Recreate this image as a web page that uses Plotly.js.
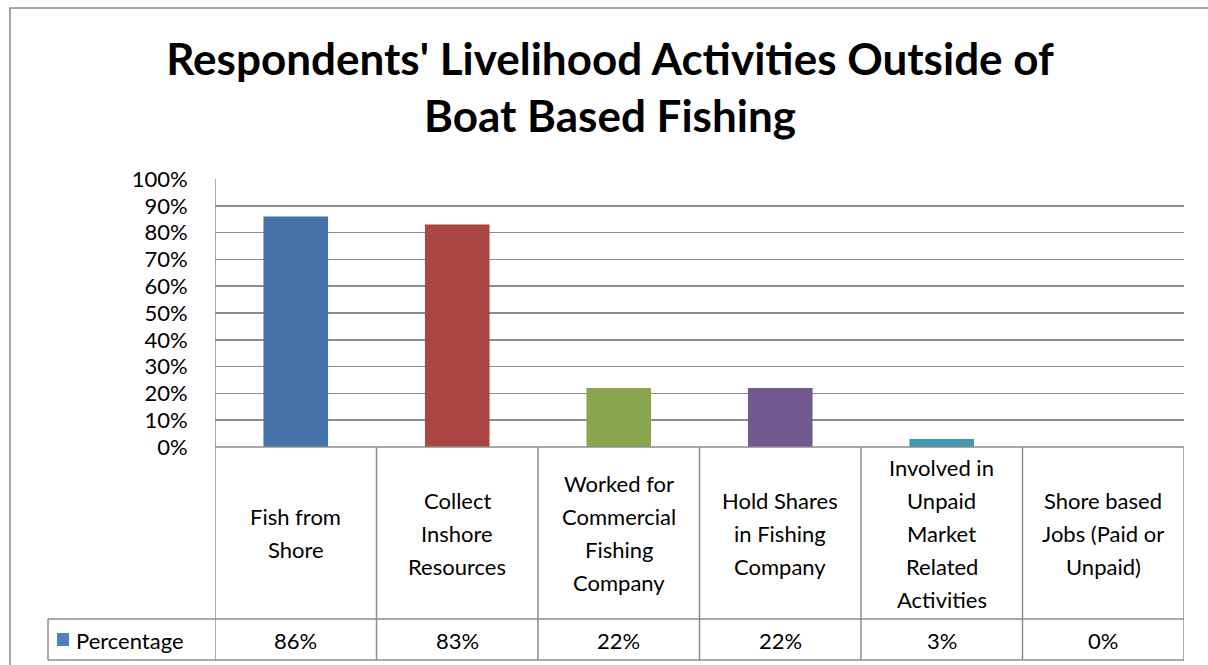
<!DOCTYPE html>
<html>
<head>
<meta charset="utf-8">
<script src="https://cdn.plot.ly/plotly-3.0.1.min.js"></script>
<style>html,body{margin:0;padding:0;background:#fff;}#chart{width:1208px;height:665px;}</style>
</head>
<body>
<div id="chart"></div>
<script>
const categories = [
  "Fish from<br>Shore",
  "Collect<br>Inshore<br>Resources",
  "Worked for<br>Commercial<br>Fishing<br>Company",
  "Hold Shares<br>in Fishing<br>Company",
  "Involved in<br>Unpaid<br>Market<br>Related<br>Activities",
  "Shore based<br>Jobs (Paid or<br>Unpaid)"
];
const percentage = [0.86, 0.83, 0.22, 0.22, 0.03, 0.00];
const seriesName = "Percentage";
const barColors = ["#4572A7", "#AA4643", "#89A54E", "#71588F", "#4198AF", "#DB843D"];
const titleText = "Respondents' Livelihood Activities Outside of<br>Boat Based Fishing";

const FONT = "Lato, 'Open Sans', sans-serif";
const W = 1208, H = 665;
const L = 215, R = 24, T = 179, B = 218;
const plotW = W - L - R, plotH = H - T - B;
const py = p => (H - B - p) / plotH;   // pixel y -> paper y
const px = p => (p - L) / plotW;       // pixel x -> paper x
const lineCol = "#8c8c8c";

const xs = categories.map((c, i) => i);

const trace = {
  type: "bar",
  x: xs,
  y: percentage,
  name: seriesName,
  marker: { color: barColors.slice(0, percentage.length), line: { width: 0 } },
  hoverinfo: "skip"
};

const shapes = [];
const annotations = [];
const tableMid = py(619), tableBot = py(660);

// outer chart border
shapes.push({ type: "rect", xref: "paper", yref: "paper", x0: px(10), x1: px(1240), y0: py(700), y1: py(8),
  line: { color: lineCol, width: 1.5 }, fillcolor: "rgba(0,0,0,0)", layer: "below" });

// table vertical lines
for (let i = 0; i <= categories.length; i++) {
  shapes.push({ type: "line", xref: "x", yref: "paper", x0: i - 0.5, x1: i - 0.5,
    y0: i === 0 ? 1 : 0, y1: tableBot, line: { color: lineCol, width: 1.5 } });
}
// legend cell left line
shapes.push({ type: "line", xref: "paper", yref: "paper", x0: px(48), x1: px(48), y0: tableMid, y1: tableBot,
  line: { color: lineCol, width: 1.5 } });
// horizontal table lines
shapes.push({ type: "line", xref: "paper", yref: "paper", x0: 0, x1: 1, y0: 0, y1: 0, line: { color: lineCol, width: 1.5 } });
shapes.push({ type: "line", xref: "paper", yref: "paper", x0: px(48), x1: 1, y0: tableMid, y1: tableMid, line: { color: lineCol, width: 1.5 } });
shapes.push({ type: "line", xref: "paper", yref: "paper", x0: px(48), x1: 1, y0: tableBot, y1: tableBot, line: { color: lineCol, width: 1.5 } });
// legend key
shapes.push({ type: "rect", xref: "paper", yref: "paper", x0: px(57), x1: px(69), y0: py(646), y1: py(633),
  line: { width: 0 }, fillcolor: "#4F81BD" });

// category labels (each line separately, Excel-like spacing)
const labelMid = py(533), lineGap = 33;
categories.forEach((c, i) => {
  const lines = c.split("<br>");
  const n = lines.length;
  lines.forEach((t, j) => {
    annotations.push({ xref: "x", yref: "paper", x: i, y: labelMid, yshift: -((j - (n - 1) / 2) * lineGap),
      text: t, showarrow: false, xanchor: "center", yanchor: "middle",
      font: { family: FONT, size: 22, color: "#000" } });
  });
});
// values row
percentage.forEach((v, i) => {
  annotations.push({ xref: "x", yref: "paper", x: i, y: py(640), text: Math.round(v * 100) + "%",
    showarrow: false, xanchor: "center", yanchor: "middle", font: { family: FONT, size: 22, color: "#000" } });
});
annotations.push({ xref: "paper", yref: "paper", x: px(74), y: py(640), text: seriesName, showarrow: false,
  xanchor: "left", yanchor: "middle", font: { family: FONT, size: 22, color: "#000" } });

const layout = {
  width: W, height: H,
  margin: { l: L, r: R, t: T, b: B, pad: 0 },
  paper_bgcolor: "#fff", plot_bgcolor: "#fff",
  showlegend: false,
  bargap: 0.6,
  title: { text: titleText, x: 0.505, xanchor: "center", xref: "container", yref: "container",
    y: 1 - 75 / H, yanchor: "middle", font: { family: FONT, size: 44, color: "#000", weight: 700 } },
  xaxis: { range: [-0.5, categories.length - 0.5], showticklabels: false, showgrid: false, zeroline: false,
    showline: false, ticks: "", fixedrange: true },
  yaxis: { range: [0, 1], dtick: 0.1, tick0: 0, tickformat: ".0%", showgrid: true, gridcolor: lineCol, gridwidth: 1.5,
    zeroline: false, showline: false, ticks: "outside", ticklen: 22, tickcolor: "rgba(0,0,0,0)",
    tickfont: { family: FONT, size: 22, color: "#000" }, fixedrange: true },
  shapes: shapes,
  annotations: annotations
};

Plotly.newPlot("chart", [trace], layout, { displayModeBar: false, staticPlot: true });
</script>
</body>
</html>
